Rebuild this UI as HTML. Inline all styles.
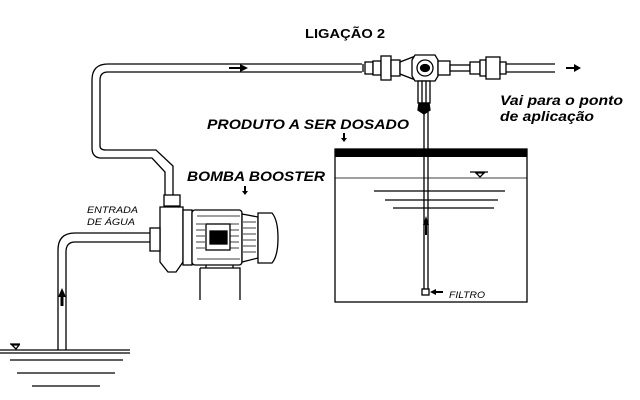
<!DOCTYPE html>
<html><head><meta charset="utf-8"><style>
html,body{margin:0;padding:0;background:#fff;width:640px;height:400px;overflow:hidden}
svg{display:block}
text{font-family:"Liberation Sans",sans-serif;fill:#000}
</style></head><body>
<svg width="640" height="400" viewBox="0 0 640 400" xmlns="http://www.w3.org/2000/svg">
<g fill="none" stroke="#000" stroke-width="1.3">
<path d="M362,64 H108 Q92,64 92,80 V148 Q92,157 100,158 H152 L165,172 V197"/>
<path d="M362,72 H108 Q100,72 100,80 V146 Q100,150 106,150 H156 L173,166 V197"/>
<path d="M505,64 H555 M505,72 H555"/>
<path d="M150,233 H75 Q58,233 58,250 V350"/>
<path d="M150,242 H75 Q66,242 66,252 V350"/>
<path d="M0,350 H130 M0,353 H130 M10,360 H123 M17,373 H115 M32,386 H100"/>
<path d="M10,344 H20 M12,345 L16,349 L19,345 Z"/>
<rect x="335" y="149" width="192" height="153"/>
<path d="M335,178 H527" stroke-width="0.8"/>
<path d="M374,191 H505 M385,200 H498 M393,208 H494"/>
<path d="M470,172 H488 M476,173 L480,177 L484,173 Z"/>
<path d="M424,112 V290 M428,112 V290"/>
<rect x="422" y="289" width="7" height="6" fill="#fff"/>
<path d="M363,64 V72" />
<rect x="365" y="62" width="8" height="12" fill="#fff"/>
<rect x="373" y="61" width="8" height="14" fill="#fff"/>
<rect x="381" y="56" width="10" height="24" fill="#fff"/>
<rect x="391" y="60" width="9" height="16" fill="#fff"/>
<path d="M400,62 L413,57 V79 L400,74 Z" fill="#fff"/>
<path d="M415,55 L435,55 L438,60 V76 L435,81 H415 L412,76 V60 Z" fill="#fff"/>
<circle cx="425" cy="68" r="8" fill="#fff"/>
<ellipse cx="425" cy="68" rx="4.5" ry="3.5" fill="#000"/>
<rect x="438" y="61" width="12" height="14" fill="#fff"/>
<rect x="450" y="65" width="20" height="6" fill="#fff"/>
<rect x="470" y="62" width="10" height="12" fill="#fff"/>
<rect x="480" y="60" width="6" height="16" fill="#fff"/>
<rect x="486" y="57" width="14" height="22" fill="#fff"/>
<rect x="500" y="62" width="6" height="12" fill="#fff"/>
<rect x="418" y="81" width="12" height="22" fill="#fff"/>
<path d="M422,81 V103 M426,81 V103"/>
<path d="M419,103 H429 L430,110 L424,114 L418,110 Z" fill="#000"/>
<rect x="164" y="195" width="16" height="11" fill="#fff"/>
<path d="M160,207 H183 V262 L176,272 L168,272 L160,262 Z" fill="#fff"/>
<rect x="150" y="228" width="10" height="23" fill="#fff"/>
<rect x="183" y="210" width="9" height="55" fill="#fff"/>
<rect x="192" y="210" width="50" height="55" rx="3" fill="#fff"/>
<path d="M242,214 L258,217 V258 L242,262 Z" fill="#fff"/>
<path d="M258,213 H272 Q278,220 278,238 Q278,256 272,263 H258 Z" fill="#fff"/>
<path d="M197,216 H240 M197,259 H240 M243,222 H256 M243,228 H256 M243,234 H256 M243,240 H256 M243,246 H256 M243,252 H256" stroke-width="0.8"/>
<path d="M196,224 H205 M196,230 H205 M196,236 H205 M196,242 H205 M196,248 H205 M230,224 H239 M230,230 H239 M230,236 H239 M230,242 H239 M230,248 H239" stroke-width="0.8"/>
<rect x="206" y="224" width="24" height="26" fill="#fff"/>
<rect x="210" y="231" width="17" height="13" fill="#000"/>
<path d="M206,265 V270 M233,265 V270"/>
<path d="M200,268 H240 V300 M200,268 V300" fill="#fff"/>
</g>
<g fill="#000">
<path d="M229,67 H240 V64 L248,68 L240,72 V69 H229 Z"/>
<path d="M566,67 H574 V64 L581,68 L574,72 V69 H566 Z"/>
<path d="M62,288 L58,297 H60.5 V306 H63.5 V297 H66 Z"/>
<path d="M426,216 L423,225 H425 V235 H427 V225 H429 Z"/>
<path d="M343,133 H345 V138 H347 L344,142 L341,138 H343 Z"/>
<path d="M244,186 H246 V191 H248 L245,195 L242,191 H244 Z"/>
<path d="M430,292 L436,289 V291 H443 V293 H436 V295 Z"/>
</g>
<rect x="335" y="149" width="192" height="8" fill="#000"/>
<text x="305" y="38" font-size="12.5" font-weight="bold" textLength="80" lengthAdjust="spacingAndGlyphs">LIGAÇÃO 2</text>
<text x="500" y="105" font-size="14" font-weight="bold" font-style="italic" textLength="123" lengthAdjust="spacingAndGlyphs">Vai para o ponto</text>
<text x="500" y="121" font-size="14" font-weight="bold" font-style="italic" textLength="94" lengthAdjust="spacingAndGlyphs">de aplicação</text>
<text x="207" y="129" font-size="14" font-weight="bold" font-style="italic" textLength="202" lengthAdjust="spacingAndGlyphs">PRODUTO A SER DOSADO</text>
<text x="187" y="181" font-size="14" font-weight="bold" font-style="italic" textLength="138" lengthAdjust="spacingAndGlyphs">BOMBA BOOSTER</text>
<text x="87" y="213" font-size="9.5" font-style="italic" textLength="51" lengthAdjust="spacingAndGlyphs">ENTRADA</text>
<text x="87" y="225" font-size="9.5" font-style="italic" textLength="48" lengthAdjust="spacingAndGlyphs">DE ÁGUA</text>
<text x="449" y="298" font-size="9.5" font-style="italic" textLength="36" lengthAdjust="spacingAndGlyphs">FILTRO</text>
</svg>
</body></html>
